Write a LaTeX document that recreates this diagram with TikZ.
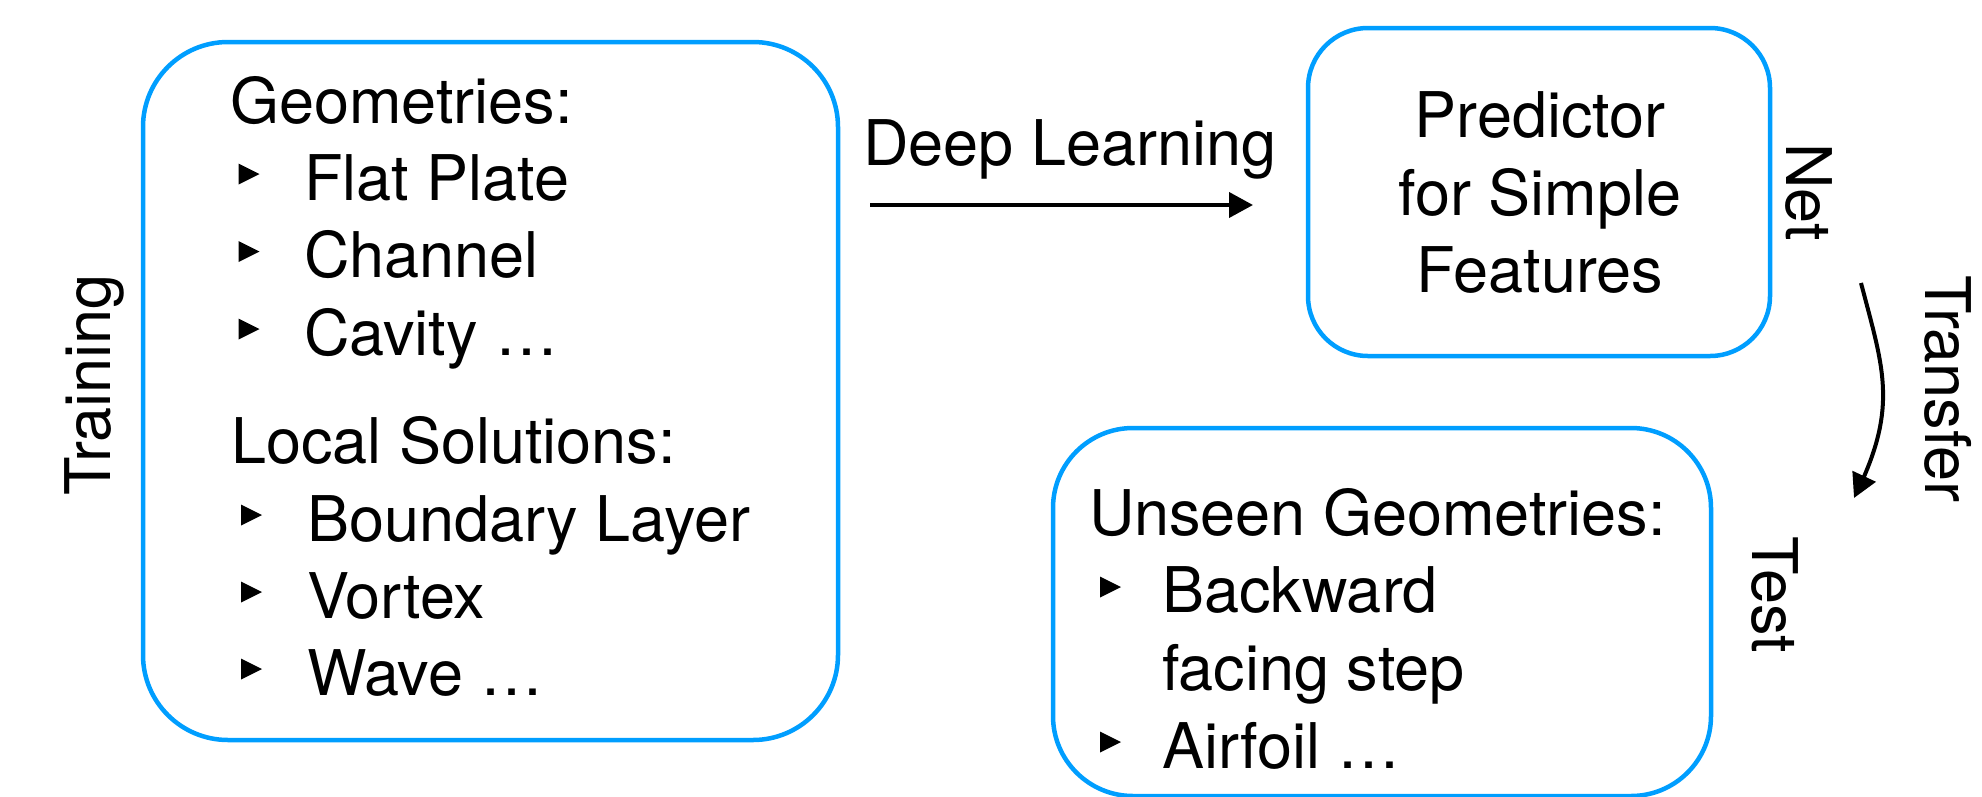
\documentclass[tikz,border=0pt]{standalone}
\usepackage{fontspec}
\setmainfont{TeX Gyre Heros}
\usetikzlibrary{arrows.meta,bending}
\definecolor{kblue}{RGB}{0,158,255}
\begin{document}
\begin{tikzpicture}[x=1pt,y=-1pt,
  box/.style={draw=kblue, line width=4.5pt, rounded corners=#1, inner sep=0pt, outer sep=0pt},
  txt/.style={inner sep=0pt, outer sep=0pt, font=\fontsize{63}{77.5}\selectfont, anchor=base west},
  ctxt/.style={txt, anchor=base},
  rtxt/.style={txt, anchor=base},
  conn/.style={line width=4pt, -{Triangle[length=24pt,width=25pt]}},
  bul/.pic={\fill (-10,-10.5) -- (11,0) -- (-10,10.5) -- cycle;}]
\useasboundingbox (0,0) rectangle (1982,796);

% boxes
\node[box=85pt, minimum width=695pt, minimum height=698pt] (train) at (490.5,391) {};
\node[box=60pt, minimum width=462pt, minimum height=328pt] (pred) at (1539,192) {};
\node[box=80pt, minimum width=658pt, minimum height=368pt] (test) at (1382,612) {};

% training box text
\node[txt] (geo) at (230,123) {Geometries:};
\node[txt] (flat) at (304,200) {Flat Plate};
\node[txt] (chan) at (304,277.5) {Channel};
\node[txt] (cav) at (304,355) {Cavity …};
\node[txt] (loc) at (231,463) {Local Solutions:};
\node[txt] (bl) at (307,541) {Boundary Layer};
\node[txt] (vort) at (307,618) {Vortex};
\node[txt] (wave) at (307,695) {Wave …};
\pic at (248.5,174) {bul};
\pic at (248.5,251.5) {bul};
\pic at (248.5,329) {bul};
\pic at (251,515) {bul};
\pic at (251,592) {bul};
\pic at (251,669) {bul};

% predictor text
\node[ctxt] (p1) at (1540,137) {Predictor};
\node[ctxt] (p2) at (1540,215) {for Simple};
\node[ctxt] (p3) at (1540,292) {Features};

% test box text
\node[txt] (uns) at (1089,535) {Unseen Geometries:};
\node[txt] (bw) at (1162,612) {Backward};
\node[txt] (fs) at (1162,690) {facing step};
\node[txt] (af) at (1162,768) {Airfoil …};
\pic at (1110,587) {bul};
\pic at (1110,742) {bul};

% side labels
\node[rtxt, rotate=90] (lt) at (110,385) {Training};
\node[rtxt, rotate=-90] (ln) at (1786,192) {Net};
\node[rtxt, rotate=-90] (ltr) at (1925,389) {Transfer};
\node[rtxt, rotate=-90] (lte) at (1752,595) {Test};

% deep learning arrow
\node[txt] (dl) at (863,165) {Deep Learning};
\coordinate (dlA) at (870,205);
\coordinate (dlB) at (1253,205);
\draw[conn] (dlA) -- (dlB);

% transfer arrow
\coordinate (trA) at (1861,283);
\coordinate (trB) at (1854,498);
\draw[conn] (trA) .. controls (1884,371) and (1899,408) .. (trB);
\end{tikzpicture}
\end{document}
